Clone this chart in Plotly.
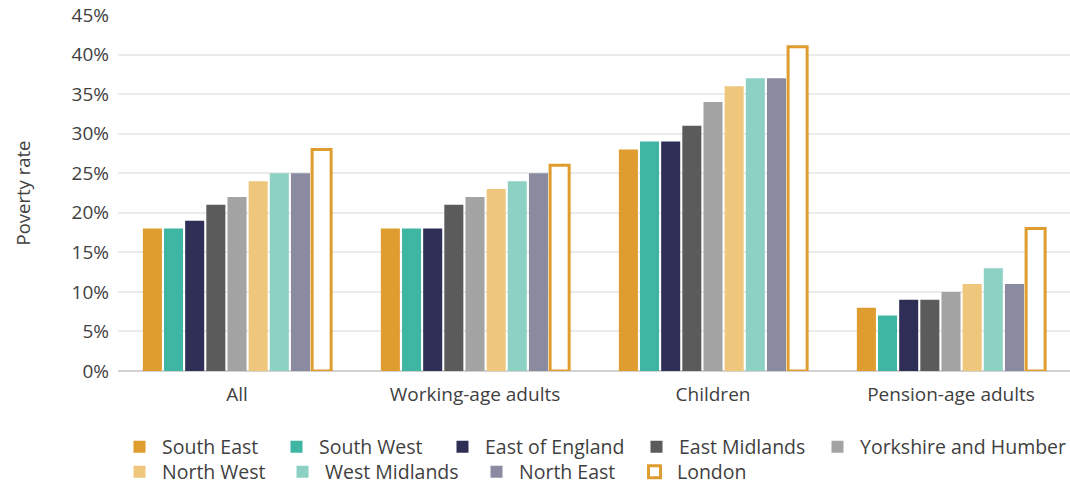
import plotly.graph_objects as go

groups = ["All", "Working-age adults", "Children", "Pension-age adults"]

regions = ["South East", "South West", "East of England", "East Midlands",
           "Yorkshire and Humber", "North West", "West Midlands", "North East", "London"]

south_east = [18, 18, 28, 8]
south_west = [18, 18, 29, 7]
east_of_england = [19, 18, 29, 9]
east_midlands = [21, 21, 31, 9]
yorkshire_and_humber = [22, 22, 34, 10]
north_west = [24, 23, 36, 11]
west_midlands = [25, 24, 37, 13]
north_east = [25, 25, 37, 11]
london = [28, 26, 41, 18]

series = [south_east, south_west, east_of_england, east_midlands,
          yorkshire_and_humber, north_west, west_midlands, north_east, london]

colors = ["#DF9D2F", "#3FB6A3", "#2E2E57", "#5B5B5B", "#A3A3A3",
          "#EEC77D", "#8DD1C5", "#8A8BA0", "#DF9D2F"]

# left edge of each legend key (px, in the page): two rows under the chart
key_left = [130, 287, 453, 647, 828, 130, 293, 487, 645]
key_mid_y = [447, 447, 447, 447, 447, 472, 472, 472, 472]

font_family = "Open Sans, Noto Sans, sans-serif"
text_color = "#3F3F3F"
W, H = 1070, 486

fig = go.Figure()
legend_layouts = {}
for i, (name, vals, col) in enumerate(zip(regions, series, colors)):
    if name == "London":
        marker = dict(color="white", line=dict(color=col, width=3))
    else:
        marker = dict(color=col, line=dict(width=0))
    key = "legend" if i == 0 else f"legend{i + 1}"
    fig.add_trace(go.Bar(name=name, x=groups, y=vals, marker=marker,
                         legend=key))
    legend_layouts[key] = dict(
        orientation="h",
        xref="container", yref="container",
        x=(key_left[i] - 13) / W, xanchor="left",
        y=1 - key_mid_y[i] / H, yanchor="middle",
        itemwidth=35,
        font=dict(size=19.5, color=text_color),
        bgcolor="rgba(0,0,0,0)",
    )

fig.update_layout(
    width=W, height=H,
    barmode="group", bargap=0.2, bargroupgap=0.1,
    plot_bgcolor="white", paper_bgcolor="white",
    margin=dict(l=118, r=0, t=15, b=115),
    font=dict(family=font_family, size=18, color=text_color),
    yaxis=dict(
        range=[0, 45], dtick=5, ticksuffix="%",
        gridcolor="#EBEBEB", gridwidth=1.5,
        zeroline=True, zerolinecolor="#D2D2D2", zerolinewidth=1.5,
        tickfont=dict(size=19, color=text_color),
        ticklabelstandoff=8,
        title=dict(text="Poverty rate", font=dict(size=18.5, color=text_color),
                   standoff=36),
        ticks="", showline=False,
    ),
    xaxis=dict(
        tickfont=dict(size=19, color=text_color),
        ticklabelstandoff=10,
        showline=False, ticks="",
    ),
    showlegend=True,
    **legend_layouts,
)

fig.write_html("out.html")
